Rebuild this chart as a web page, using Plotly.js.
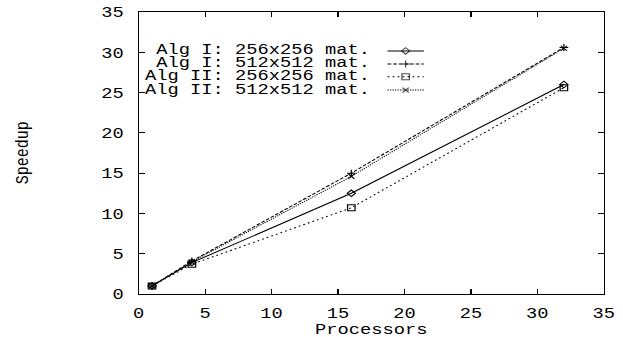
<!DOCTYPE html>
<html>
<head>
<meta charset="utf-8">
<script src="https://cdn.plot.ly/plotly-3.0.1.min.js"></script>
<style>
html,body{margin:0;padding:0;background:#fff;overflow:hidden;}
#wrap{width:623px;height:337px;overflow:hidden;}
#chart{width:498.4px;height:337px;transform:scaleX(1.25);transform-origin:0 0;}
</style>
</head>
<body>
<div id="wrap"><div id="chart"></div></div>
<script>
const processors = [1, 4, 16, 32];
const seriesNames = ["Alg I: 256x256 mat.", "Alg I: 512x512 mat.", "Alg II: 256x256 mat.", "Alg II: 512x512 mat."];
const algI256 = [1, 3.9, 12.5, 26.0];
const algI512 = [1, 4.1, 15.0, 30.6];
const algII256 = [1, 3.7, 10.7, 25.6];
const algII512 = [1, 4.0, 14.6, 30.5];
const tickVals = [0, 5, 10, 15, 20, 25, 30, 35];

const SX = 1.25;
const styles = [
  {dash: "solid", symbol: "diamond-open", size: 5},
  {dash: "3px,1.5px", symbol: "cross-thin", size: 5},
  {dash: "1.5px,2.5px", symbol: "square-open", size: 6},
  {dash: "1px,1px", symbol: "x-thin", size: 5}
];
const allSeries = [algI256, algI512, algII256, algII512];
const FONT = "Liberation Mono, Courier New, monospace";
const FS = 15;

const traces = [];
allSeries.forEach((ys, i) => {
  traces.push({
    x: processors, y: ys, type: "scatter", mode: "lines+markers",
    showlegend: false,
    line: {color: "#000", width: 1, dash: styles[i].dash},
    marker: {symbol: styles[i].symbol, size: styles[i].size, color: "#000", line: {color: "#000", width: 1}}
  });
});

// legend samples on an overlay axis (0..1)
const legY = [0.862, 0.816, 0.770, 0.723];
const annotations = [];
seriesNames.forEach((name, i) => {
  traces.push({
    x: [0.535, 0.574, 0.613], y: [legY[i], legY[i], legY[i]],
    xaxis: "x2", yaxis: "y2", type: "scatter", mode: "lines+markers", showlegend: false,
    line: {color: "#000", width: 1, dash: styles[i].dash},
    marker: {symbol: styles[i].symbol, size: [0, styles[i].size, 0], color: "#000", line: {color: "#000", width: 1}}
  });
  annotations.push({
    xref: "paper", yref: "paper", x: 0.503, y: legY[i], xanchor: "right", yanchor: "middle",
    text: name, showarrow: false, font: {family: FONT, size: FS, color: "#000"}
  });
});
annotations.push({
  xref: "paper", yref: "paper", x: 0.5, y: 0, xanchor: "center", yanchor: "top", yshift: -26,
  text: "Processors", showarrow: false, font: {family: FONT, size: FS, color: "#000"}
});
annotations.push({
  xref: "paper", yref: "paper", x: 0, y: 0.5, xanchor: "center", yanchor: "middle",
  xshift: -(139 - 23) / SX, textangle: -90,
  text: "Speedup", showarrow: false, font: {family: FONT, size: FS, color: "#000"}
});

const axisCommon = {
  range: [0, 35], tickvals: tickVals, ticks: "inside", ticklen: 5, tickcolor: "#000",
  showline: true, linecolor: "#000", linewidth: 1, mirror: "allticks",
  showgrid: false, zeroline: false, tickfont: {family: FONT, size: FS, color: "#000"}
};

const layout = {
  width: 623 / SX, height: 337,
  margin: {l: 139 / SX, r: 19 / SX, t: 12, b: 43},
  paper_bgcolor: "#fff", plot_bgcolor: "#fff",
  showlegend: false,
  xaxis: Object.assign({}, axisCommon, {ticklabelstandoff: 5}),
  yaxis: Object.assign({}, axisCommon, {ticklabelstandoff: 8}),
  xaxis2: {range: [0, 1], overlaying: "x", visible: false, fixedrange: true},
  yaxis2: {range: [0, 1], overlaying: "y", visible: false, fixedrange: true},
  annotations: annotations
};

Plotly.newPlot("chart", traces, layout, {staticPlot: true, displayModeBar: false});
</script>
</body>
</html>
